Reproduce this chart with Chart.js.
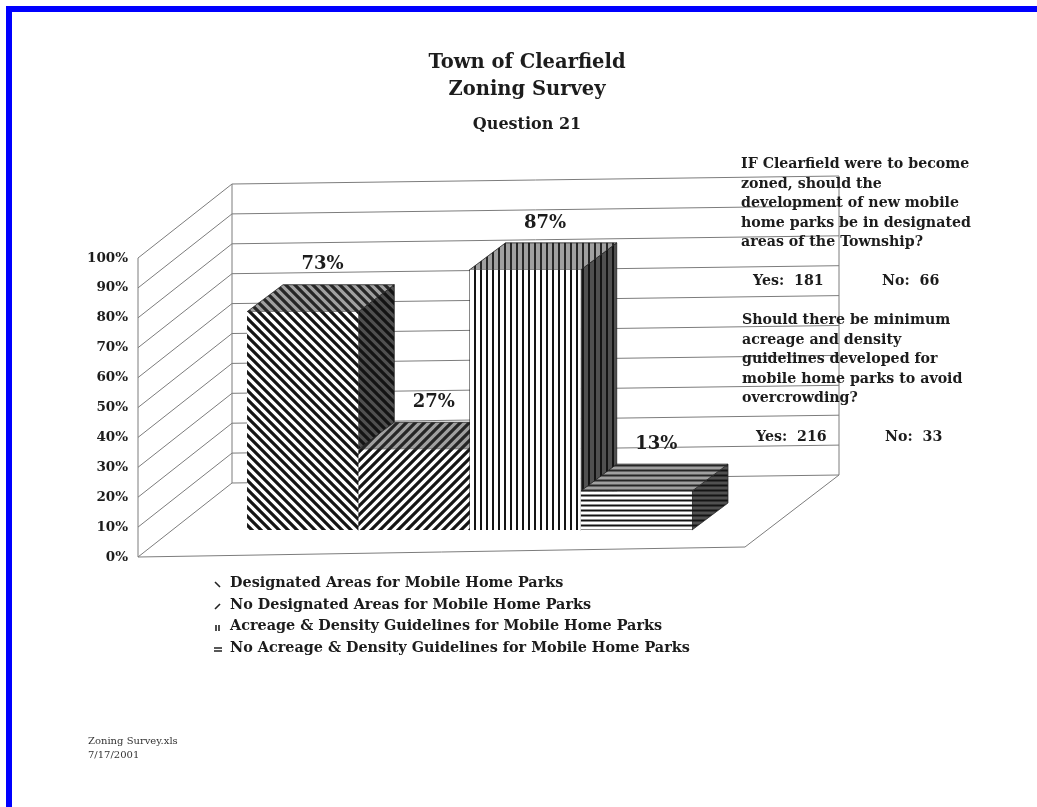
<!DOCTYPE html>
<html>
<head>
<meta charset="utf-8">
<title>Town of Clearfield Zoning Survey</title>
<script src="https://cdn.jsdelivr.net/npm/chart.js@4.4.1/dist/chart.umd.min.js"></script>
<style>
  body { margin: 0; background: #fff; }
  #page { position: relative; width: 1037px; height: 807px; overflow: hidden; font-family: 'DejaVu Serif', serif; color: #1c1c1c; }
  #frame { position: absolute; left: 6px; top: 6px; width: 1100px; height: 900px; border-left: 6px solid #0000ff; border-top: 6px solid #0000ff; }
  #chart { position: absolute; left: 0; top: 0; }
  .t { position: absolute; font-weight: bold; white-space: nowrap; }
  #title { left: 0; width: 1054px; top: 48px; text-align: center; font-size: 19.5px; line-height: 27px; }
  #sub { left: 0; width: 1054px; top: 113px; text-align: center; font-size: 16px; line-height: 22px; }
  .note { font-size: 14.2px; line-height: 19.5px; }
  #legend { position: absolute; left: 214px; top: 571px; font-weight: bold; font-size: 14.4px; }
  #legend div { height: 21.5px; line-height: 21.5px; white-space: nowrap; }
  #legend canvas { vertical-align: -1px; margin-right: 8px; }
  #foot { position: absolute; left: 88px; top: 734px; font-size: 10px; line-height: 14px; color: #333; }
</style>
</head>
<body>
<div id="page">
  <div id="frame"></div>
  <canvas id="chart" width="1037" height="807"></canvas>
  <div class="t" id="title">Town of Clearfield<br>Zoning Survey</div>
  <div class="t" id="sub">Question 21</div>
  <div class="t note" style="left:741px;top:154px;">IF Clearfield were to become<br>zoned, should the<br>development of new mobile<br>home parks be in designated<br>areas of the Township?</div>
  <div class="t note" style="left:753px;top:271px;">Yes:&nbsp; 181</div>
  <div class="t note" style="left:882px;top:271px;">No:&nbsp; 66</div>
  <div class="t note" style="left:742px;top:310px;">Should there be minimum<br>acreage and density<br>guidelines developed for<br>mobile home parks to avoid<br>overcrowding?</div>
  <div class="t note" style="left:756px;top:427px;">Yes:&nbsp; 216</div>
  <div class="t note" style="left:885px;top:427px;">No:&nbsp; 33</div>
  <div id="legend"></div>
  <div id="foot">Zoning Survey.xls<br>7/17/2001</div>
</div>
<script>
const categories = ['Question 21'];
const seriesLabels = [
    'Designated Areas for Mobile Home Parks',
    'No Designated Areas for Mobile Home Parks',
    'Acreage & Density Guidelines for Mobile Home Parks',
    'No Acreage & Density Guidelines for Mobile Home Parks'
];
const seriesValues = [73, 27, 87, 13];
const patternKinds = ['back', 'fwd', 'vert', 'horiz'];

// 3D offsets (pixels)
const SHIFT = { x: 28, y: -27 };   // bar plane behind the front axis
const DEPTH = { x: 36, y: -27 };   // bar depth
const WALL = { x: 94, y: -74 };    // back wall
const TILT = -8;                   // slight perspective of the back wall lines

function makePattern(kind, bg, fg, lw, size) {
    const c = document.createElement('canvas');
    c.width = size; c.height = size;
    const g = c.getContext('2d');
    g.fillStyle = bg;
    g.fillRect(0, 0, size, size);
    g.strokeStyle = fg;
    g.lineWidth = lw;
    g.lineCap = 'square';
    g.beginPath();
    if (kind === 'back') {
        for (let k = -1; k <= 1; k++) { g.moveTo(k * size - 2, -2); g.lineTo(k * size + size + 2, size + 2); }
    } else if (kind === 'fwd') {
        for (let k = -1; k <= 1; k++) { g.moveTo(k * size - 2, size + 2); g.lineTo(k * size + size + 2, -2); }
    } else if (kind === 'vert') {
        g.moveTo(size / 2, -1); g.lineTo(size / 2, size + 1);
    } else {
        g.moveTo(-1, size / 2); g.lineTo(size + 1, size / 2);
    }
    g.stroke();
    return g.createPattern(c, 'repeat');
}

const tile = { back: 9, fwd: 9, vert: 6, horiz: 5 };
const stroke = { back: 3.2, fwd: 3.2, vert: 2, horiz: 2 };

const frontPatterns = patternKinds.map(k => makePattern(k, '#ffffff', '#151515', stroke[k], tile[k]));
const topPatterns = patternKinds.map(k => makePattern(k, '#a0a0a0', '#262626', stroke[k], tile[k]));
const sidePatterns = patternKinds.map(k => makePattern(k, '#505050', '#141414', stroke[k], tile[k]));

function poly(ctx, pts) {
    ctx.beginPath();
    ctx.moveTo(pts[0][0], pts[0][1]);
    for (let i = 1; i < pts.length; i++) ctx.lineTo(pts[i][0], pts[i][1]);
    ctx.closePath();
    ctx.fill();
    ctx.stroke();
}

const box3d = {
    id: 'box3d',
    beforeDatasetsDraw(chart) {
        const ctx = chart.ctx;
        const a = chart.chartArea;
        const y = chart.scales.y;
        const bx = a.left + WALL.x, ex = a.right + WALL.x;
        const y0 = y.getPixelForValue(0), y100 = y.getPixelForValue(100);

        ctx.save();
        ctx.strokeStyle = '#7c7c7c';
        ctx.lineWidth = 1;
        for (let v = 0; v <= 100; v += 10) {
            const py = y.getPixelForValue(v);
            ctx.beginPath();
            ctx.moveTo(a.left, py);
            ctx.lineTo(bx, py + WALL.y);
            ctx.lineTo(ex, py + WALL.y + TILT);
            ctx.stroke();
        }
        ctx.beginPath();
        ctx.moveTo(a.left, y100); ctx.lineTo(a.left, y0);
        ctx.moveTo(bx, y100 + WALL.y); ctx.lineTo(bx, y0 + WALL.y);
        ctx.moveTo(ex, y100 + WALL.y + TILT); ctx.lineTo(ex, y0 + WALL.y + TILT);
        ctx.moveTo(a.left, y0); ctx.lineTo(a.right, y0 - 10); ctx.lineTo(ex, y0 + WALL.y + TILT);
        ctx.stroke();
        ctx.restore();

        // side and top faces of the bars
        ctx.save();
        ctx.translate(SHIFT.x, SHIFT.y);
        ctx.strokeStyle = '#222';
        ctx.lineWidth = 0.8;
        chart.data.datasets.forEach((ds, i) => {
            const bar = chart.getDatasetMeta(i).data[0];
            const l = bar.x - bar.width / 2, r = bar.x + bar.width / 2;
            const t = bar.y, b = bar.base;
            ctx.fillStyle = sidePatterns[i];
            poly(ctx, [[r, t], [r + DEPTH.x, t + DEPTH.y], [r + DEPTH.x, b + DEPTH.y], [r, b]]);
            ctx.fillStyle = topPatterns[i];
            poly(ctx, [[l, t], [l + DEPTH.x, t + DEPTH.y], [r + DEPTH.x, t + DEPTH.y], [r, t]]);
        });
    },
    afterDatasetsDraw(chart) {
        const ctx = chart.ctx;
        ctx.fillStyle = '#1c1c1c';
        ctx.font = 'bold 18px "DejaVu Serif", serif';
        ctx.textAlign = 'center';
        ctx.textBaseline = 'middle';
        chart.data.datasets.forEach((ds, i) => {
            const bar = chart.getDatasetMeta(i).data[0];
            ctx.fillText(ds.data[0] + '%', bar.x + 20, bar.y + DEPTH.y - 20);
        });
        ctx.restore();
    }
};

const ctx = document.getElementById('chart').getContext('2d');
const grafico = new Chart(ctx, {
    type: 'bar',
    data: {
        labels: categories,
        datasets: seriesLabels.map((label, i) => ({
            label: label,
            data: [seriesValues[i]],
            backgroundColor: frontPatterns[i],
            borderWidth: 0,
            clip: false
        }))
    },
    options: {
        responsive: false,
        animation: false,
        events: [],
        categoryPercentage: 0.733,
        barPercentage: 1.0,
        layout: { padding: { left: 60, right: 292, top: 258, bottom: 250 } },
        scales: {
            x: { display: false },
            y: {
                min: 0,
                max: 100,
                afterFit: function (scale) { scale.width = 78; },
                grid: { display: false, drawTicks: false },
                border: { display: false },
                ticks: {
                    stepSize: 10,
                    padding: 10,
                    color: '#1c1c1c',
                    font: { family: '"DejaVu Serif", serif', size: 13.5, weight: 'bold' },
                    callback: v => v + '%'
                }
            }
        },
        plugins: {
            legend: { display: false },
            tooltip: { enabled: false }
        }
    },
    plugins: [box3d]
});

// legend built from the datasets
const legendBox = document.getElementById('legend');
grafico.data.datasets.forEach((ds, i) => {
    const row = document.createElement('div');
    const sw = document.createElement('canvas');
    sw.width = 8; sw.height = 9;
    const g = sw.getContext('2d');
    g.strokeStyle = '#222';
    g.lineWidth = 1.6;
    g.beginPath();
    const k = patternKinds[i];
    if (k === 'back') { g.moveTo(1, 3); g.lineTo(6, 8); }
    else if (k === 'fwd') { g.moveTo(1, 8); g.lineTo(6, 3); }
    else if (k === 'vert') { g.moveTo(2, 3); g.lineTo(2, 9); g.moveTo(5, 3); g.lineTo(5, 9); }
    else { g.moveTo(0, 4); g.lineTo(8, 4); g.moveTo(0, 7); g.lineTo(8, 7); }
    g.stroke();
    row.appendChild(sw);
    row.appendChild(document.createTextNode(ds.label));
    legendBox.appendChild(row);
});
</script>
</body>
</html>
